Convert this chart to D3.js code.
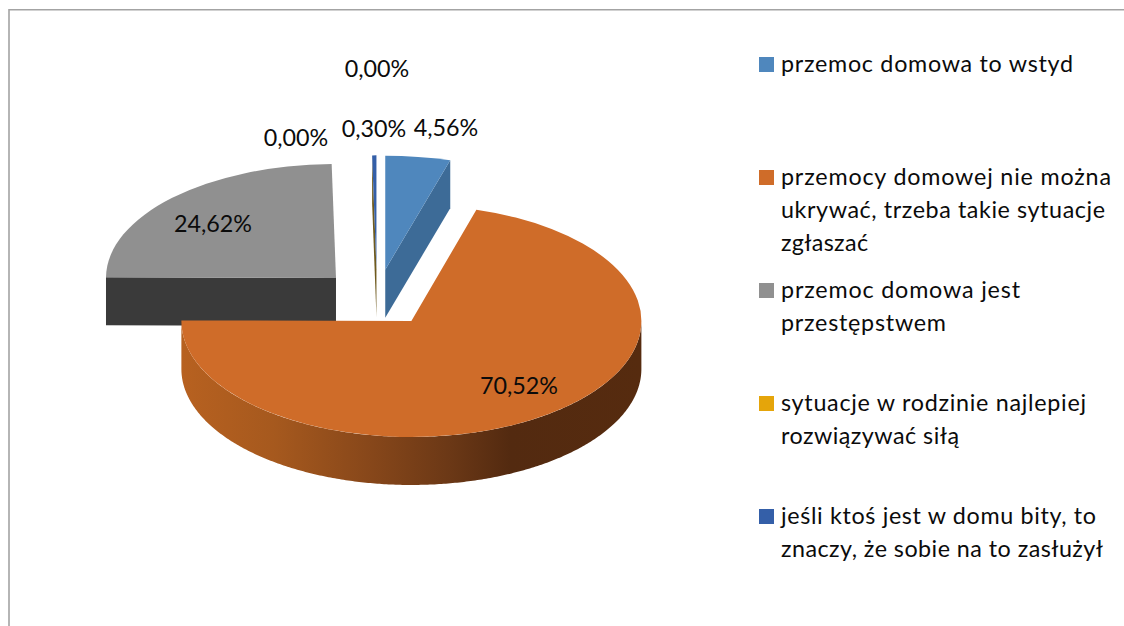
<!DOCTYPE html>
<html lang="pl">
<head>
<meta charset="utf-8">
<style>
html,body{margin:0;padding:0;background:#fff;overflow:hidden}
svg{display:block}
text{font-family:Lato,"Open Sans",sans-serif;fill:#0b0b0b}
</style>
<script src="https://cdnjs.cloudflare.com/ajax/libs/d3/7.8.5/d3.min.js"></script>
</head>
<body>
<svg id="c" width="1124" height="626"></svg>
<script>
const values = [4.56, 70.52, 24.62, 0.00, 0.30, 0.00];
const valueLabels = ["4,56%", "70,52%", "24,62%", "0,00%", "0,30%", "0,00%"];
const legendLines = [
  ["przemoc domowa to wstyd"],
  ["przemocy domowej nie można", "ukrywać, trzeba takie sytuacje", "zgłaszać"],
  ["przemoc domowa jest", "przestępstwem"],
  ["sytuacje w rodzinie najlepiej", "rozwiązywać siłą"],
  ["jeśli ktoś jest w domu bity, to", "znaczy, że sobie na to zasłużył"]
];
const topColors = ["#4f87bd", "#cf6c29", "#909090", "#e5a50a", "#345fa8"];
const legendBaselines = [72, 185, 298, 411, 524];
const legendLineWidths = [[292],[330,324,87],[239,165],[305,178],[315,322]];
const labelCenters = [[446,128],[519,386],[213,224],[377,69],[374,129],[296,138]];

const FONT = 23.3, LINE = 33;
const C = {x:377, y:298}, explode = 57.6, rx = 230, ryFront = 116, ryBack = 114, depth = 48;
const yk = 0.497;
const svg = d3.select("#c");

const defs = svg.append("defs");
const grad = defs.append("linearGradient").attr("id","orangeWall")
  .attr("gradientUnits","userSpaceOnUse").attr("x1",182).attr("x2",641).attr("y1",0).attr("y2",0);
[[0,"#b76120"],[.2,"#a6591e"],[.41,"#87471a"],[.584,"#6b3816"],[.715,"#532a10"],[1,"#562b0f"]]
  .forEach(s => grad.append("stop").attr("offset",s[0]).attr("stop-color",s[1]));

// frame
svg.append("path").attr("d","M1124,9.8H9V626").attr("fill","none").attr("stroke","#a3a3a3").attr("stroke-width",1.6);

const arcs = d3.pie().sort(null).value(d=>d)(values);
const arcGen = d3.arc().innerRadius(0).outerRadius(rx);
const centre = a => {
  const m = (a.startAngle + a.endAngle) / 2;
  return [C.x + explode*Math.sin(m), C.y - explode*yk*Math.cos(m)];
};
const rim = (c,t,ry,dy=0) => [c[0] + rx*Math.sin(t), c[1] - ry*Math.cos(t) + dy];

function face(a, fill, ry){
  const c = centre(a);
  svg.append("path").attr("d", arcGen(a))
    .attr("transform", `translate(${c[0]},${c[1]}) scale(1,${ry/rx})`)
    .attr("fill", fill);
}
function cut(a, t, fill, ry){
  const c = centre(a), r0 = rim(c,t,ry), r1 = rim(c,t,ry,depth);
  const pts = [c, r0, r1, [c[0], c[1]+depth]];
  svg.append("path").attr("d", d3.line()(pts)+"Z").attr("fill", fill);
}

// gray slice
const gray = arcs[2];
cut(gray, gray.startAngle, "#3a3a3a", ryBack);
face(gray, topColors[2], ryBack);

// sliver (0,30%)
const sliver = arcs[4];
cut(sliver, sliver.startAngle, "#6f5a1e", ryBack);
face(sliver, topColors[4], ryBack);

// blue slice
const blue = arcs[0];
cut(blue, blue.endAngle, "#3d6b97", ryBack);
face(blue, topColors[0], ryBack);

// orange slice
const orange = arcs[1];
const oc = centre(orange);
const wallAngles = d3.range(Math.PI/2, orange.endAngle, 0.01).concat([orange.endAngle]);
const wall = d3.area()
  .x(t => rim(oc,t,ryFront)[0])
  .y0(t => rim(oc,t,ryFront)[1])
  .y1(t => rim(oc,t,ryFront,depth)[1]);
svg.append("path").attr("d", wall(wallAngles)).attr("fill","url(#orangeWall)");
face(orange, topColors[1], ryFront);

// data labels
svg.append("g").selectAll("text").data(valueLabels).join("text")
  .attr("x",(d,i)=>labelCenters[i][0])
  .attr("y",(d,i)=>labelCenters[i][1]+8)
  .attr("text-anchor","middle")
  .attr("font-size",FONT)
  .text(d=>d);

// legend
const lg = svg.append("g").selectAll("g").data(legendLines).join("g");
lg.append("rect").attr("x",759).attr("y",(d,i)=>legendBaselines[i]-15)
  .attr("width",15).attr("height",15).attr("fill",(d,i)=>topColors[i]);
lg.each(function(lines,i){
  d3.select(this).selectAll("text").data(lines).join("text")
    .attr("x",781).attr("y",(d,j)=>legendBaselines[i]+j*LINE)
    .attr("font-size",FONT)
    .attr("textLength",(d,j)=>legendLineWidths[i][j])
    .attr("lengthAdjust","spacing")
    .text(d=>d);
});
</script>
</body>
</html>
